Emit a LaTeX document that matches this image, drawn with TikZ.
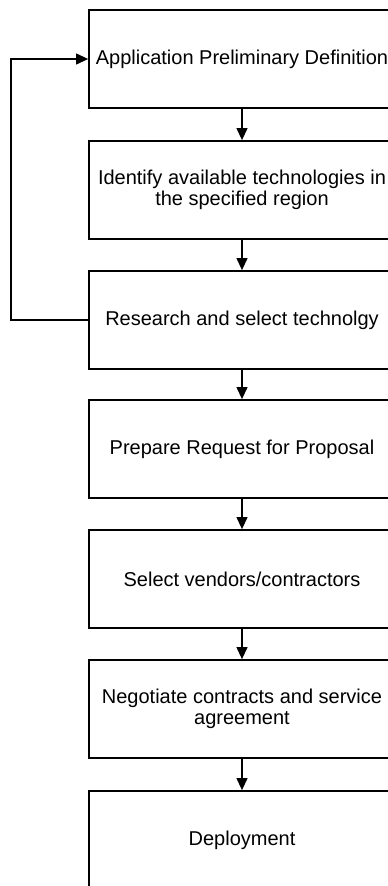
\documentclass[tikz,border=0pt]{standalone}
\usepackage{fontspec}
\setmainfont{Liberation Sans}
\usetikzlibrary{arrows.meta}
\begin{document}
\begin{tikzpicture}[x=1pt, y=-1pt,
  stepbox/.style={draw=black, line width=1.8pt, minimum width=306pt, minimum height=98pt,
    inner sep=0pt, align=center, font=\fontsize{20}{21.5}\selectfont},
  flow/.style={draw=black, line width=1.2pt, -{Triangle[length=12pt, width=11pt]}}]
  \useasboundingbox (0,0) rectangle (388,886);
  \clip (0,0) rectangle (388,886);
  \fill[white] (0,0) rectangle (388,886);

  % process steps, top to bottom
  \node[stepbox] (b1) at (242,59)  {Application Preliminary Definition};
  \node[stepbox] (b2) at (242,190) {Identify available technologies in\\the specified region};
  \node[stepbox] (b3) at (242,320) {Research and select technolgy};
  \node[stepbox] (b4) at (242,449) {Prepare Request for Proposal};
  \node[stepbox] (b5) at (242,579) {Select vendors/contractors};
  \node[stepbox] (b6) at (242,709) {Negotiate contracts and service\\agreement};
  \node[stepbox] (b7) at (242,840) {Deployment};

  % sequential flow
  \draw[flow] (b1.south) -- (b2.north);
  \draw[flow] (b2.south) -- (b3.north);
  \draw[flow] (b3.south) -- (b4.north);
  \draw[flow] (b4.south) -- (b5.north);
  \draw[flow] (b5.south) -- (b6.north);
  \draw[flow] (b6.south) -- (b7.north);

  % feedback loop from technology selection back to the definition
  \coordinate (lp) at (11,0);
  \draw[flow] (b3.west) -- (b3.west -| lp) |- (b1.west);
\end{tikzpicture}
\end{document}
